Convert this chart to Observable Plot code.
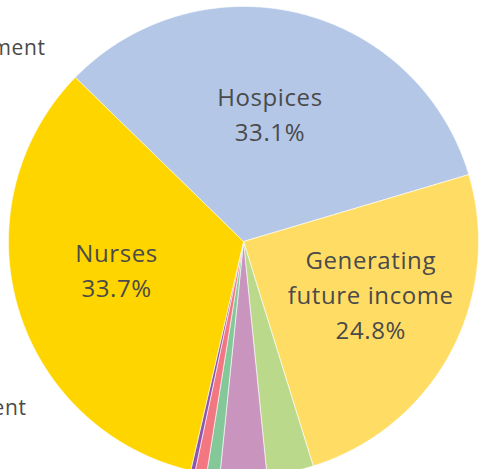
<!DOCTYPE html>
<html>
<head>
<meta charset="utf-8">
<script src="https://cdn.jsdelivr.net/npm/d3@7"></script>
<script src="https://cdn.jsdelivr.net/npm/@observablehq/plot@0.6"></script>
<style>
  html, body { margin: 0; padding: 0; background: #fff; }
  #chart svg { display: block; }
  #chart svg g[aria-label="text"] text { letter-spacing: 0.6px; }
</style>
</head>
<body>
<div id="chart"></div>
<script>
// Data (clockwise order, starting with Hospices)
const categories = ["Hospices", "Generating future income", "Research", "Information and support", "Policy and campaigning", "Volunteering", "Other", "Nurses"];
const labels = ["Hospices", "Generating\nfuture income", "", "", "", "", "", "Nurses"];
const percents = [33.1, 24.8, 3.2, 3.2, 0.9, 0.8, 0.3, 33.7];
const colors = ["#B4C7E7", "#FFDD65", "#BBD98B", "#C995BF", "#84C89A", "#F37780", "#8D56AE", "#FFD500"];
const outsideLabels = ["Investment management", "Policy and engagement"];

// layout constants
const W = 483, H = 469;
const cx = 243, cy = 241, R = 235;
const startDeg = -45.7;

const pie = d3.pie().sort(null).value(d => d.value)
  .startAngle(startDeg * Math.PI / 180)
  .endAngle(startDeg * Math.PI / 180 + 2 * Math.PI);

const rows = categories.map((c, i) => ({category: c, label: labels[i], value: percents[i], color: colors[i]}));
const arcs = pie(rows);

// polygon points for each slice in unit coordinates (y up)
const pts = [];
arcs.forEach((a, i) => {
  const n = Math.max(4, Math.ceil((a.endAngle - a.startAngle) / 0.005));
  pts.push({slice: i, x: 0, y: 0, color: a.data.color});
  for (let k = 0; k <= n; k++) {
    const t = a.startAngle + (a.endAngle - a.startAngle) * k / n;
    pts.push({slice: i, x: Math.sin(t), y: Math.cos(t), color: a.data.color});
  }
  pts.push({slice: i, x: 0, y: 0, color: a.data.color});
});

// label placement: radius (fraction of R) and angular nudge (degrees) per slice index
const labelLayout = {0: [0.565, -2.4], 1: [0.582, -6.6], 7: [0.551, 5.0]};
const textRows = arcs.map((a, idx) => ({a, idx})).filter(({a}) => a.data.label).map(({a, idx}) => {
  const [r, nudge] = labelLayout[idx];
  const m = (a.startAngle + a.endAngle) / 2 + nudge * Math.PI / 180;
  return {x: r * Math.sin(m), y: r * Math.cos(m), text: a.data.label + "\n" + a.data.value.toFixed(1) + "%"};
});

const plot = Plot.plot({
  width: W,
  height: H,
  margin: 0,
  x: {domain: [-cx / R, (W - cx) / R], range: [0, W], axis: null},
  y: {domain: [-(H - cy) / R, cy / R], range: [H, 0], axis: null},
  style: {background: "#fff", fontFamily: "'Open Sans', sans-serif"},
  marks: [
    Plot.line(pts, {x: "x", y: "y", z: "slice", fill: "color", stroke: "#fff", strokeWidth: 0.6, curve: "linear"}),
    Plot.text(textRows, {x: "x", y: "y", text: "text", fontSize: 24, lineHeight: 1.46, fill: "#4a4a4a", fontWeight: 400, dy: 1}),
    Plot.text([outsideLabels[0]], {frameAnchor: "top-left", text: d => d, textAnchor: "end", dx: 45, dy: 40, fontSize: 21, fill: "#4a4a4a"}),
    Plot.text([outsideLabels[1]], {frameAnchor: "top-left", text: d => d, textAnchor: "end", dx: 26, dy: 400, fontSize: 21, fill: "#4a4a4a"})
  ]
});
document.getElementById("chart").appendChild(plot);
</script>
</body>
</html>
